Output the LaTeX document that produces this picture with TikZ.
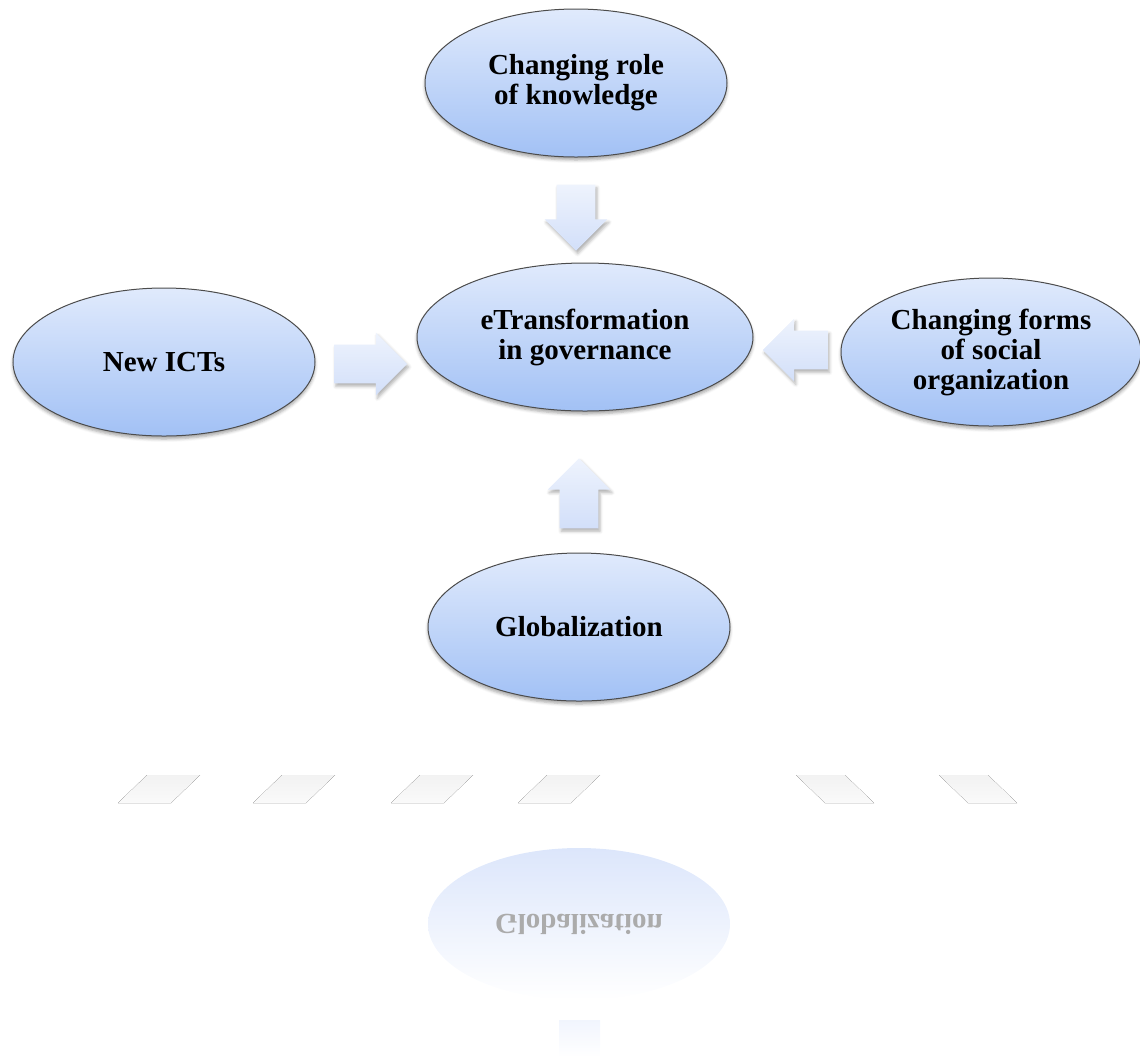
\documentclass[tikz,border=0pt]{standalone}
\usepackage{fontspec}
\setmainfont{Liberation Serif}
\usetikzlibrary{shapes.geometric,shapes.arrows,shadows.blur}

\definecolor{ovalTop}{RGB}{224,234,252}
\definecolor{ovalBottom}{RGB}{162,193,245}
\definecolor{flowTop}{RGB}{238,243,253}
\definecolor{flowBottom}{RGB}{210,223,249}
\definecolor{echoTop}{RGB}{220,230,251}

\begin{document}
\begin{tikzpicture}[
    x=0.5pt, y=-0.5pt,
    factor/.style={ellipse, draw=black!70, line width=0.5pt,
      top color=ovalTop, bottom color=ovalBottom,
      minimum width=151pt, minimum height=74pt, inner sep=0pt, align=center,
      font=\fontsize{14.5}{15}\selectfont\bfseries,
      blur shadow={shadow xshift=0pt, shadow yshift=-1.5pt,
        shadow blur radius=1.5pt, shadow opacity=35}},
    hub/.style={factor, minimum width=168pt},
    flow/.style={single arrow, draw=none, top color=flowTop, bottom color=flowBottom,
      inner sep=9.5pt, minimum height=34pt,
      single arrow head extend=6pt, single arrow head indent=0pt,
      blur shadow={shadow xshift=0.8pt, shadow yshift=-1.5pt,
        shadow blur radius=1.5pt, shadow opacity=30}},
    stripe/.style={top color=black!5, bottom color=black!2}
  ]
  \useasboundingbox (0,0) rectangle (1140,1057);

  \node[hub] (governance) at (585,337) {eTransformation\\in governance};
  \node[factor] (knowledge) at (576,83) {Changing role\\of knowledge};
  \node[factor] (icts) at (164,362) {New ICTs};
  \node[factor, minimum width=150pt] (social) at (991,352)
    {Changing forms\\of social\\organization};
  \node[factor] (globalization) at (579,627) {Globalization};

  % block arrows pointing at the hub
  \node[flow, minimum height=33pt, shape border rotate=270] (fromKnowledge) at (576,208) {};
  \node[flow, minimum height=36.5pt] (fromIcts) at (361,364) {};
  \node[flow, minimum height=32.5pt, shape border rotate=180] (fromSocial) at (805,350) {};
  \node[flow, minimum height=35pt, shape border rotate=90] (fromGlobalization) at (579,503) {};

  % faded reflection below
  \foreach \x in {147,282,420,547}
    \fill[stripe] (\x,775) -- ++(53,0) -- ++(-29,28) -- ++(-53,0) -- cycle;
  \foreach \x in {796,939}
    \fill[stripe] (\x,775) -- ++(49,0) -- ++(29,28) -- ++(-49,0) -- cycle;

  \node[ellipse, minimum width=151pt, minimum height=76pt, inner sep=0pt,
    top color=echoTop, bottom color=white] (echo) at (579,924) {};
  \node[yscale=-1, transform shape, text=black!33,
    font=\fontsize{14.5}{15}\selectfont\bfseries] (echoLabel) at (echo) {Globalization};
  \fill[top color=echoTop!40, bottom color=white] (559,1020) rectangle (600,1057);
\end{tikzpicture}
\end{document}
